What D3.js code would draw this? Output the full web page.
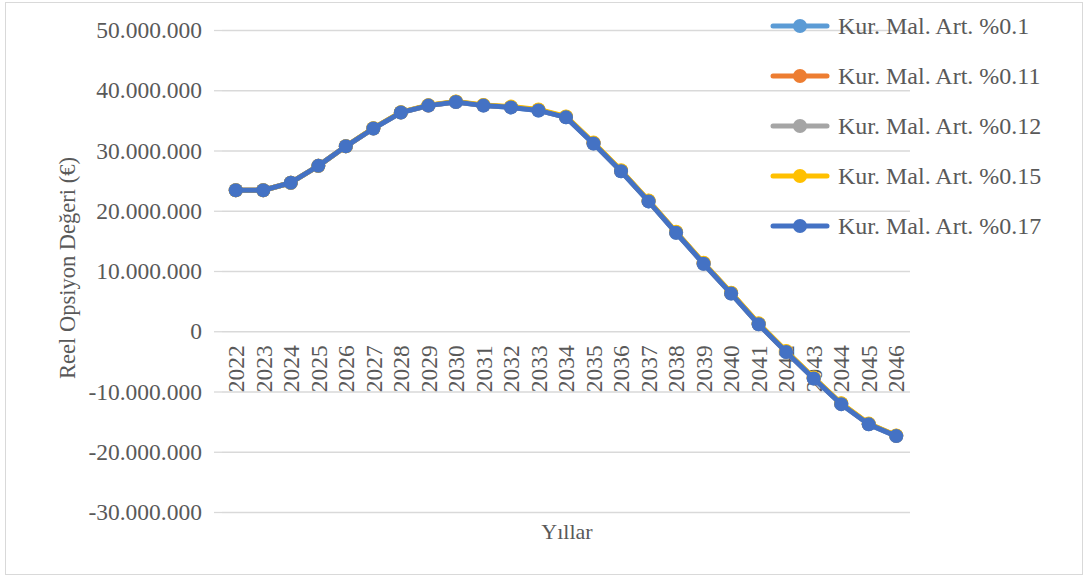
<!DOCTYPE html>
<html>
<head>
<meta charset="utf-8">
<script src="https://cdn.jsdelivr.net/npm/d3@7"></script>
<style>
  html, body { margin: 0; padding: 0; background: #fff; }
  svg { display: block; font-family: "Liberation Serif", "Times New Roman", serif; }
  svg text { font-family: "Liberation Serif", "Times New Roman", serif; }
</style>
</head>
<body>
<svg id="chart" width="1087" height="578"></svg>
<script>
// Years on the category axis
const years = ["2022","2023","2024","2025","2026","2027","2028","2029","2030","2031","2032","2033","2034","2035","2036","2037","2038","2039","2040","2041","2042","2043","2044","2045","2046"];

// Real option value (€) per salary-increase scenario
const rate010 = [23400000,23400000,24650000,27450000,30700000,33650000,36300000,37450000,38050000,37450000,37150000,36650000,35500000,31150000,26550000,21550000,16350000,11200000,6250000,1150000,-3450000,-7850000,-12100000,-15450000,-17400000];
const rate011 = [23400000,23400000,24650000,27450000,30700000,33670000,36320000,37470000,38080000,37490000,37200000,36710000,35560000,31210000,26610000,21610000,16410000,11260000,6310000,1210000,-3390000,-7790000,-12040000,-15400000,-17360000];
const rate012 = [23400000,23400000,24650000,27450000,30700000,33680000,36330000,37490000,38100000,37510000,37230000,36740000,35590000,31240000,26640000,21640000,16440000,11290000,6340000,1240000,-3360000,-7760000,-12010000,-15380000,-17340000];
const rate015 = [23400000,23400000,24650000,27450000,30710000,33700000,36360000,37530000,38140000,37570000,37290000,36810000,35660000,31310000,26710000,21710000,16510000,11360000,6410000,1310000,-3290000,-7690000,-11950000,-15330000,-17300000];
const rate017 = [23400000,23400000,24650000,27450000,30700000,33650000,36300000,37450000,38050000,37450000,37150000,36650000,35500000,31150000,26550000,21550000,16350000,11200000,6250000,1150000,-3450000,-7850000,-12100000,-15450000,-17400000];

const seriesNames = ["Kur. Mal. Art. %0.1","Kur. Mal. Art. %0.11","Kur. Mal. Art. %0.12","Kur. Mal. Art. %0.15","Kur. Mal. Art. %0.17"];
const seriesValues = [rate010, rate011, rate012, rate015, rate017];
const seriesColors = ["#5b9bd5","#ed7d31","#a5a5a5","#ffc000","#4472c4"];

const yTicks = [-30000000,-20000000,-10000000,0,10000000,20000000,30000000,40000000,50000000];

const svg = d3.select("#chart");
const textColor = "#595959";
const gridColor = "#d9d9d9";
const serif = "'Liberation Serif', 'Times New Roman', serif";

// Outer chart frame
svg.append("rect")
  .attr("x", 5.5).attr("y", 2.5)
  .attr("width", 1077).attr("height", 572)
  .attr("fill", "#fff").attr("stroke", gridColor).attr("stroke-width", 1);

const plot = { left: 222, right: 910, top: 30, bottom: 512 };

const x = d3.scaleBand().domain(years).range([plot.left, plot.right]);
const y = d3.scaleLinear().domain([-30000000, 50000000]).range([plot.bottom, plot.top]);

// Thousands separated by dots, plain hyphen for negatives
const fmt = v => d3.format(",")(v).replace(/,/g, ".").replace("\u2212", "-");

// Horizontal gridlines with short outward ticks
const yAxis = d3.axisLeft(y)
  .tickValues(yTicks)
  .tickSize(-(plot.right - plot.left))
  .tickPadding(20)
  .tickFormat(fmt);

const gy = svg.append("g")
  .attr("transform", `translate(${plot.left},0)`)
  .call(yAxis)
  .attr("font-family", serif);
gy.select(".domain").remove();
gy.selectAll(".tick line").attr("stroke", gridColor).attr("stroke-width", 1.3);
gy.selectAll(".tick").append("line")
  .attr("x1", -8).attr("x2", 0)
  .attr("stroke", gridColor).attr("stroke-width", 1.3);
gy.selectAll(".tick text")
  .attr("fill", textColor)
  .style("font-size", "23.5px")
  .style("font-family", serif);

// Year labels, rotated, hanging just below the zero line
const xAxis = d3.axisBottom(x).tickSize(0).tickPadding(0);
const gx = svg.append("g")
  .attr("transform", `translate(0,${y(0)})`)
  .call(xAxis)
  .attr("font-family", serif);
gx.select(".domain").remove();
gx.selectAll(".tick text")
  .attr("fill", textColor)
  .style("font-size", "23.5px")
  .style("font-family", serif)
  .attr("text-anchor", "end")
  .attr("dy", "0.35em")
  .attr("transform", "translate(0,14) rotate(-90)")
  .attr("x", 0).attr("y", 0);

// Series lines and markers
const line = d3.line()
  .x((d, i) => x(years[i]) + x.bandwidth() / 2)
  .y(d => y(d));

seriesValues.forEach((vals, si) => {
  const g = svg.append("g");
  g.append("path")
    .datum(vals)
    .attr("fill", "none")
    .attr("stroke", seriesColors[si])
    .attr("stroke-width", 5)
    .attr("stroke-linejoin", "round")
    .attr("d", line);
  g.selectAll("circle")
    .data(vals)
    .join("circle")
    .attr("cx", (d, i) => x(years[i]) + x.bandwidth() / 2)
    .attr("cy", d => y(d))
    .attr("r", 7)
    .attr("fill", seriesColors[si]);
});

// Legend
const legend = svg.append("g");
seriesNames.forEach((name, i) => {
  const ly = 26 + i * 50;
  const item = legend.append("g").attr("transform", `translate(0,${ly})`);
  item.append("line")
    .attr("x1", 773).attr("x2", 827)
    .attr("stroke", seriesColors[i]).attr("stroke-width", 5)
    .attr("stroke-linecap", "round");
  item.append("circle")
    .attr("cx", 800).attr("cy", 0).attr("r", 7)
    .attr("fill", seriesColors[i]);
  item.append("text")
    .attr("x", 838).attr("y", 0).attr("dy", "0.35em")
    .attr("fill", textColor)
    .style("font-size", "24px")
    .style("font-family", serif)
    .text(name);
});

// Axis titles
svg.append("text")
  .attr("x", 567).attr("y", 531).attr("dy", "0.35em")
  .attr("text-anchor", "middle")
  .attr("fill", textColor)
  .style("font-size", "22px")
  .style("font-family", serif)
  .text("Yıllar");

svg.append("text")
  .attr("transform", "translate(67,268) rotate(-90)")
  .attr("text-anchor", "middle")
  .attr("dy", "0.35em")
  .attr("fill", textColor)
  .style("font-size", "22.5px")
  .style("font-family", serif)
  .text("Reel Opsiyon Değeri (€)");
</script>
</body>
</html>
